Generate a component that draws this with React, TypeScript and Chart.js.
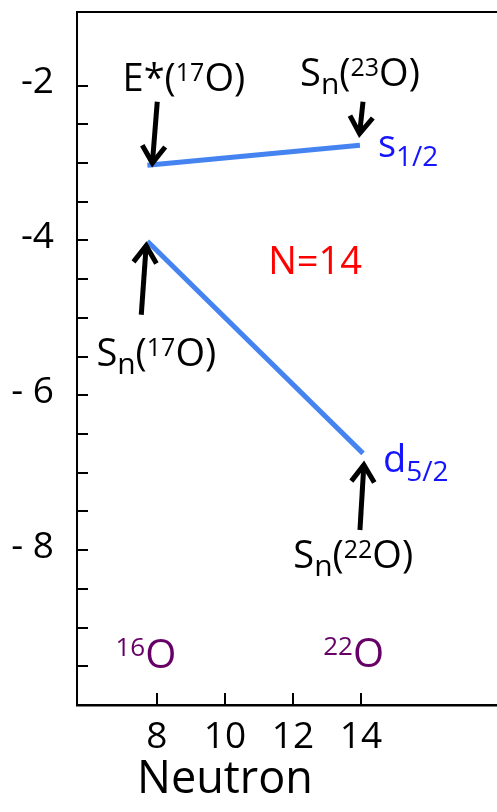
import { useEffect, useRef } from "react";
import { Chart, registerables } from "chart.js";

Chart.register(...registerables);

const FONT = "'Open Sans', sans-serif";

// Neutron single-particle levels (MeV) against neutron number
const s12Neutron = [7.72, 13.97];
const s12Energy = [-3.03, -2.77];
const d52Neutron = [7.72, 14.06];
const d52Energy = [-4.01, -6.75];

const xTicks = [8, 10, 12, 14];
const yTicks = [-2, -4, -6, -8];
const yTickLabels = ["-2", "-4", "- 6", "- 8"];
const yTickMarks = [-2, -2.5, -3, -3.5, -4, -4.5, -5, -5.5, -6, -6.5, -7, -7.5, -8, -8.5, -9, -9.5];

const LEVEL_BLUE = "#4584f0";
const TEXT_BLUE = "#1414ff";
const RED = "#ff0000";
const PURPLE = "#660066";

// Arrows pointing at level energies, in axis units
const arrows = [
  { from: [8.01, -2.21], to: [7.86, -3.04] },
  { from: [14.06, -2.21], to: [13.95, -2.66] },
  { from: [7.54, -4.96], to: [7.69, -4.03] },
  { from: [13.97, -7.74], to: [14.09, -6.86] },
];

// Rich text runs: [text, font size, baseline shift]
type Run = [string, number, number];
const notes: { at: [number, number]; color: string; runs: Run[] }[] = [
  { at: [6.99, -2.07], color: "#000", runs: [["E*(", 38, 0], ["17", 25, -10], ["O)", 38, 0]] },
  { at: [12.21, -2.01], color: "#000", runs: [["S", 38, 0], ["n", 30, 8], ["(", 38, 0], ["23", 25, -10], ["O)", 38, 0]] },
  { at: [14.5, -2.92], color: TEXT_BLUE, runs: [["s", 38, 0], ["1/2", 28, 9]] },
  { at: [11.27, -4.43], color: RED, runs: [["N=14", 38, 0]] },
  { at: [6.22, -5.62], color: "#000", runs: [["S", 38, 0], ["n", 30, 8], ["(", 38, 0], ["17", 25, -10], ["O)", 38, 0]] },
  { at: [14.65, -6.99], color: TEXT_BLUE, runs: [["d", 38, 0], ["5/2", 28, 9]] },
  { at: [12.01, -8.23], color: "#000", runs: [["S", 38, 0], ["n", 30, 8], ["(", 38, 0], ["22", 25, -10], ["O)", 38, 0]] },
  { at: [6.78, -9.52], color: PURPLE, runs: [["16", 26, -12], ["O", 40, 0]] },
  { at: [12.89, -9.51], color: PURPLE, runs: [["22", 26, -12], ["O", 40, 0]] },
];

const xTitle = "Neutron";

const decorations = {
  id: "decorations",
  afterDatasetsDraw(chart: any) {
    const { ctx, chartArea } = chart;
    const xs = chart.scales.x;
    const ys = chart.scales.y;
    ctx.save();

    // top frame line
    ctx.strokeStyle = "#000";
    ctx.lineWidth = 2;
    ctx.beginPath();
    ctx.moveTo(chartArea.left - 1, chartArea.top);
    ctx.lineTo(chartArea.right, chartArea.top);
    ctx.stroke();

    // inward tick marks
    ctx.lineWidth = 2;
    ctx.beginPath();
    for (const v of yTickMarks) {
      const py = Math.round(ys.getPixelForValue(v));
      ctx.moveTo(chartArea.left, py);
      ctx.lineTo(chartArea.left + 11, py);
    }
    for (const v of xTicks) {
      const px = Math.round(xs.getPixelForValue(v));
      ctx.moveTo(px, chartArea.bottom);
      ctx.lineTo(px, chartArea.bottom - 12);
    }
    ctx.stroke();

    // arrows
    ctx.lineWidth = 5;
    ctx.lineJoin = "miter";
    ctx.lineCap = "butt";
    for (const a of arrows) {
      const x0 = xs.getPixelForValue(a.from[0]);
      const y0 = ys.getPixelForValue(a.from[1]);
      const x1 = xs.getPixelForValue(a.to[0]);
      const y1 = ys.getPixelForValue(a.to[1]);
      const ang = Math.atan2(y1 - y0, x1 - x0);
      const back = 17;
      const side = 11.5;
      const tx = x1 - Math.cos(ang) * 3;
      const ty = y1 - Math.sin(ang) * 3;
      const bx = tx - Math.cos(ang) * back;
      const by = ty - Math.sin(ang) * back;
      const nx = -Math.sin(ang);
      const ny = Math.cos(ang);
      ctx.beginPath();
      ctx.moveTo(x0, y0);
      ctx.lineTo(tx, ty);
      ctx.stroke();
      ctx.beginPath();
      ctx.moveTo(bx + nx * side, by + ny * side);
      ctx.lineTo(tx, ty);
      ctx.lineTo(bx - nx * side, by - ny * side);
      ctx.stroke();
    }

    // labels
    ctx.textBaseline = "alphabetic";
    ctx.textAlign = "left";
    for (const n of notes) {
      let px = xs.getPixelForValue(n.at[0]);
      const py = ys.getPixelForValue(n.at[1]);
      ctx.fillStyle = n.color;
      for (const [t, size, shift] of n.runs) {
        ctx.font = `${size}px ${FONT}`;
        ctx.fillText(t, px, py + shift);
        px += ctx.measureText(t).width;
      }
    }

    // axis title, centred under the 10 tick
    ctx.fillStyle = "#000";
    ctx.font = `45px ${FONT}`;
    ctx.textAlign = "center";
    ctx.fillText(xTitle, xs.getPixelForValue(10), 793);

    ctx.restore();
  },
};

const noEdgePadding = (s: any) => {
  s.paddingTop = 0;
  s.paddingBottom = 0;
  s.paddingLeft = 0;
  s.paddingRight = 0;
};

export default function App() {
  const ref = useRef<HTMLCanvasElement | null>(null);

  useEffect(() => {
    document.body.style.margin = "0";
    document.body.style.overflow = "hidden";
    const canvas = ref.current;
    if (!canvas) return;
    const chart = new Chart(canvas, {
      type: "line",
      data: {
        datasets: [
          {
            label: "s1/2",
            data: s12Neutron.map((x, i) => ({ x, y: s12Energy[i] })),
            borderColor: LEVEL_BLUE,
            borderWidth: 5,
            borderCapStyle: "butt",
            pointRadius: 0,
            tension: 0,
          },
          {
            label: "d5/2",
            data: d52Neutron.map((x, i) => ({ x, y: d52Energy[i] })),
            borderColor: LEVEL_BLUE,
            borderWidth: 5,
            borderCapStyle: "butt",
            pointRadius: 0,
            tension: 0,
          },
        ],
      },
      options: {
        animation: false,
        responsive: false,
        devicePixelRatio: 1,
        layout: { padding: { top: 12, left: 0, right: 0, bottom: 0 } },
        plugins: { legend: { display: false }, tooltip: { enabled: false } },
        scales: {
          x: {
            type: "linear",
            min: 5.65,
            max: 18,
            grid: { display: false, drawTicks: false },
            border: { display: true, color: "#000", width: 2.5 },
            afterBuildTicks: (s: any) => {
              s.ticks = xTicks.map((value) => ({ value }));
            },
            afterFit: (s: any) => {
              s.height = 107;
              noEdgePadding(s);
            },
            ticks: {
              color: "#000",
              font: { family: FONT, size: 37 },
              padding: 10,
              maxRotation: 0,
              autoSkip: false,
              callback: (v: any) => String(v),
            },
          },
          y: {
            type: "linear",
            min: -10,
            max: -1.05,
            grid: { display: false, drawTicks: false },
            border: { display: true, color: "#000", width: 2 },
            afterBuildTicks: (s: any) => {
              s.ticks = yTicks.map((value) => ({ value }));
            },
            afterFit: (s: any) => {
              s.width = 77;
              noEdgePadding(s);
            },
            ticks: {
              color: "#000",
              font: { family: FONT, size: 37 },
              padding: 23,
              labelOffset: -3,
              autoSkip: false,
              callback: (_v: any, i: number) => yTickLabels[i],
            },
          },
        },
      },
      plugins: [decorations],
    });
    return () => chart.destroy();
  }, []);

  return <canvas ref={ref} width={497} height={812} style={{ display: "block" }} />;
}
